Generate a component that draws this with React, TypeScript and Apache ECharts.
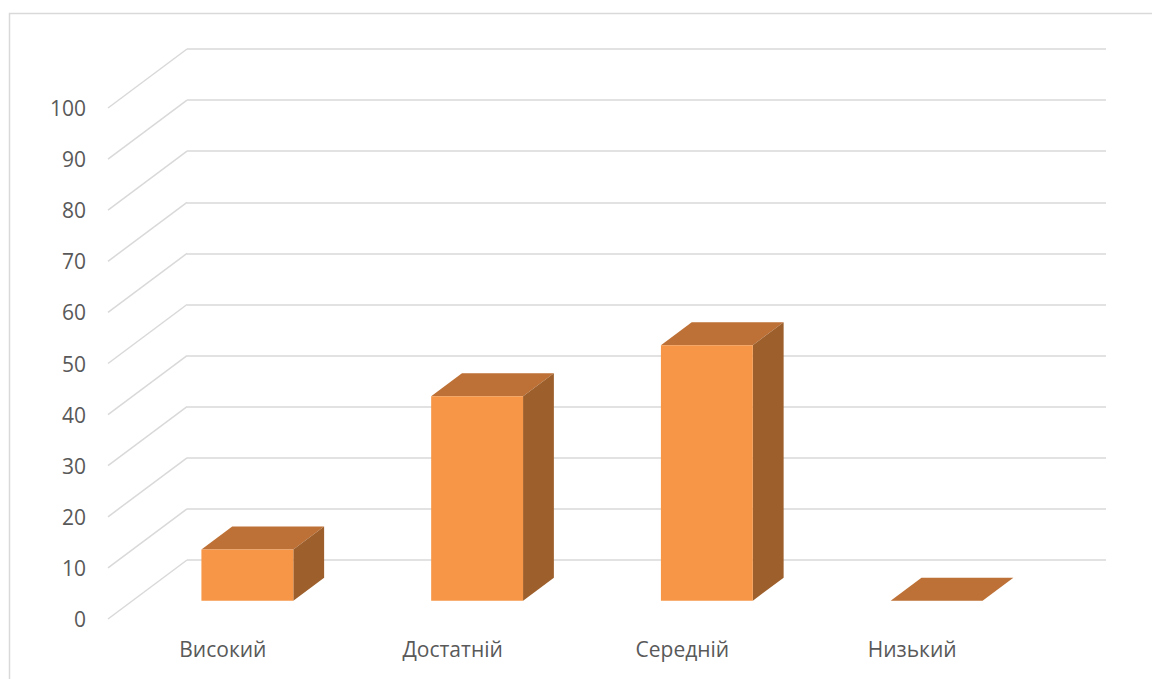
import React, { useEffect, useRef } from "react";
import * as echarts from "echarts";

const categories = ["Високий", "Достатній", "Середній", "Низький"];
const values = [10, 40, 50, 0];
const yTicks = [0, 10, 20, 30, 40, 50, 60, 70, 80, 90, 100];

// 3D projection constants (pixel offset of the front of the side wall relative to the back wall)
const WALL_DX = -79;
const WALL_DY = 59;
const FRONT = 0.69; // bar front plane depth fraction
const BACK = 0.3; // bar back plane depth fraction
const BAR_W = 0.4; // bar width as fraction of category band

const FRONT_COLOR = "#F79646";
const TOP_COLOR = "#BE7136";
const SIDE_COLOR = "#9D5F2B";
const GRID_COLOR = "#d9d9d9";
const TEXT_COLOR = "#595959";
const FONT = "'Open Sans', sans-serif";

export default function App() {
  const ref = useRef<HTMLDivElement>(null);
  useEffect(() => {
    const chart = echarts.init(ref.current!, null, { renderer: "svg" });
    chart.setOption({
      animation: false,
      backgroundColor: "#ffffff",
      graphic: [
        {
          type: "rect",
          z: -10,
          shape: { x: 9.5, y: 13.5, width: 1200, height: 700 },
          style: { fill: "none", stroke: GRID_COLOR, lineWidth: 1.5 },
          silent: true,
        },
      ],
      grid: [
        { left: 187, top: 49, width: 919, height: 511 },
        { left: 108, top: 108, width: 919, height: 511 },
      ],
      xAxis: [
        {
          type: "category",
          gridIndex: 0,
          data: categories,
          axisLine: { show: false },
          axisTick: { show: false },
          axisLabel: { show: false },
          splitLine: { show: false },
        },
        {
          type: "category",
          gridIndex: 1,
          data: categories,
          axisLine: { show: false },
          axisTick: { show: false },
          splitLine: { show: false },
          axisLabel: { color: TEXT_COLOR, fontSize: 21, fontFamily: FONT, margin: 19 },
        },
      ],
      yAxis: [
        {
          type: "value",
          gridIndex: 0,
          min: 0,
          max: 100,
          interval: 10,
          axisLine: { show: false },
          axisTick: { show: false },
          axisLabel: { show: false },
          splitLine: { show: true, lineStyle: { color: GRID_COLOR, width: 1.5 } },
        },
        {
          type: "value",
          gridIndex: 1,
          min: 0,
          max: 100,
          interval: 10,
          axisLine: { show: false },
          axisTick: { show: false },
          splitLine: { show: false },
          axisLabel: { color: TEXT_COLOR, fontSize: 21, fontFamily: FONT, margin: 22 },
        },
      ],
      series: [
        {
          type: "custom",
          xAxisIndex: 0,
          yAxisIndex: 0,
          silent: true,
          clip: false,
          z: 1,
          data: yTicks.map((v) => [0, v]),
          renderItem: (params: any, api: any) => {
            const p = api.coord([0, api.value(1)]);
            const left = params.coordSys.x;
            return {
              type: "line",
              shape: { x1: left + WALL_DX, y1: p[1] + WALL_DY, x2: left, y2: p[1] },
              style: { stroke: GRID_COLOR, lineWidth: 1.5 },
            };
          },
        },
        {
          type: "custom",
          xAxisIndex: 0,
          yAxisIndex: 0,
          silent: true,
          clip: false,
          z: 5,
          data: values.map((v, i) => [i, v]),
          renderItem: (params: any, api: any) => {
            const idx = api.value(0);
            const c = api.coord([idx, api.value(1)]);
            const base = api.coord([idx, 0]);
            const bw = api.size([1, 0])[0] * BAR_W;
            const fL = c[0] - bw / 2 + WALL_DX * FRONT;
            const fR = fL + bw;
            const fT = c[1] + WALL_DY * FRONT;
            const fB = base[1] + WALL_DY * FRONT;
            const bx = WALL_DX * (BACK - FRONT);
            const by = WALL_DY * (BACK - FRONT);
            const children: any[] = [
              {
                type: "polygon",
                shape: { points: [[fL, fT], [fR, fT], [fR + bx, fT + by], [fL + bx, fT + by]] },
                style: { fill: TOP_COLOR },
              },
            ];
            if (fB - fT > 0.5) {
              children.push({
                type: "polygon",
                shape: { points: [[fR, fT], [fR + bx, fT + by], [fR + bx, fB + by], [fR, fB]] },
                style: { fill: SIDE_COLOR },
              });
              children.push({
                type: "rect",
                shape: { x: fL, y: fT, width: bw, height: fB - fT },
                style: { fill: FRONT_COLOR },
              });
            }
            return { type: "group", children };
          },
        },
      ],
    });
    return () => chart.dispose();
  }, []);
  return (
    <div
      ref={ref}
      style={{ position: "fixed", left: 0, top: 0, width: 1152, height: 679 }}
    />
  );
}
